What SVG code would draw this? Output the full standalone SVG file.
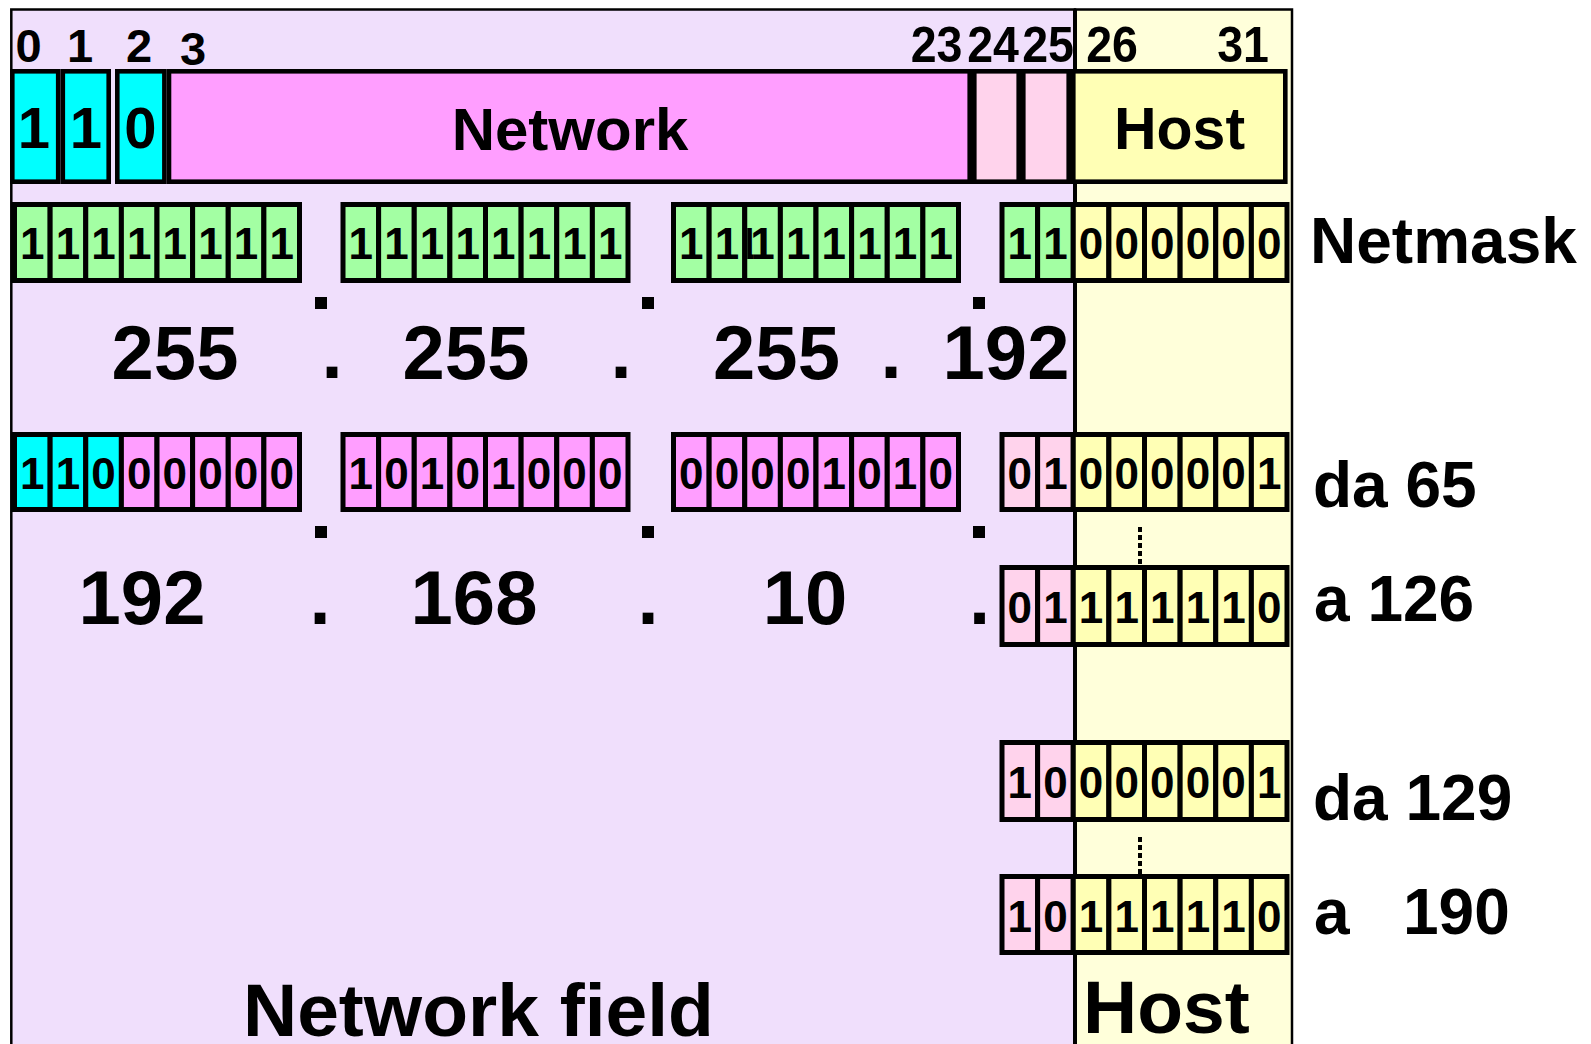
<svg xmlns="http://www.w3.org/2000/svg" width="1591" height="1044" viewBox="0 0 1591 1044">
<style>
text{font-family:"Liberation Sans",Arial,sans-serif;font-weight:bold;fill:#000}
.c{stroke:#000;stroke-width:5}
.t{stroke:#000;stroke-width:4.6}
.cy{fill:#00FFFF}.pk{fill:#FF9EFF}.lp{fill:#FFD3EC}.gr{fill:#A3FFA3}.ye{fill:#FFFFB5}
.b{font-size:44px;text-anchor:middle}
.n{font-size:76px;text-anchor:middle}
.lbl{font-size:64px}
.idx{font-size:47px;text-anchor:middle}
.idx2{font-size:50px;text-anchor:middle}
</style>
<defs>
<clipPath id="art"><rect x="747.25" y="207" width="6" height="71"/></clipPath>
</defs>
<g id="background">
<rect x="11.3" y="9.5" width="1063.7" height="1045" fill="#F0DFFC" stroke="#000" stroke-width="2.5"/>
<rect x="1075" y="9.5" width="217" height="1045" fill="#FFFFDA" stroke="#000" stroke-width="2.5"/>
<line x1="1075" y1="9" x2="1075" y2="1044" stroke="#000" stroke-width="4"/>
</g>
<g id="bit-index">
<text class="idx" x="28.5" y="62">0</text>
<text class="idx" x="80" y="62">1</text>
<text class="idx" x="139" y="62">2</text>
<text class="idx" x="193" y="65">3</text>
<text class="idx2" transform="translate(936.5 62) scale(0.93 1)">23</text>
<text class="idx2" transform="translate(993 62) scale(0.93 1)">24</text>
<text class="idx2" transform="translate(1048 62) scale(0.93 1)">25</text>
<text class="idx2" transform="translate(1112 62) scale(0.93 1)">26</text>
<text class="idx2" transform="translate(1243 62) scale(0.93 1)">31</text>
</g>
<g id="address-format">
<rect class="t cy" x="12.3" y="71.3" width="45.9" height="110.4"/>
<rect class="t cy" x="62.8" y="71.3" width="45.9" height="110.4"/>
<rect class="t cy" x="117.3" y="71.3" width="47.1" height="110.4"/>
<rect class="t pk" x="169" y="71.3" width="800.7" height="110.4"/>
<rect class="t lp" x="974.3" y="71.3" width="44.4" height="110.4"/>
<rect class="t lp" x="1023.3" y="71.3" width="45.4" height="110.4"/>
<rect class="t ye" x="1073.3" y="71.3" width="212" height="110.4"/>
<text x="34" y="148" style="font-size:58px;text-anchor:middle">1</text>
<text x="86" y="148" style="font-size:58px;text-anchor:middle">1</text>
<text x="140.5" y="148" style="font-size:58px;text-anchor:middle">0</text>
<text x="570" y="150" style="font-size:60px;text-anchor:middle">Network</text>
<text x="1179.5" y="149" style="font-size:59px;text-anchor:middle">Host</text>
</g>
<g id="netmask-bits">
<rect class="c gr" x="14.5" y="204.5" width="35.625" height="76"/>
<rect class="c gr" x="50.125" y="204.5" width="35.625" height="76"/>
<rect class="c gr" x="85.75" y="204.5" width="35.625" height="76"/>
<rect class="c gr" x="121.375" y="204.5" width="35.625" height="76"/>
<rect class="c gr" x="157" y="204.5" width="35.625" height="76"/>
<rect class="c gr" x="192.625" y="204.5" width="35.625" height="76"/>
<rect class="c gr" x="228.25" y="204.5" width="35.625" height="76"/>
<rect class="c gr" x="263.875" y="204.5" width="35.625" height="76"/>
<rect class="c gr" x="343" y="204.5" width="35.625" height="76"/>
<rect class="c gr" x="378.625" y="204.5" width="35.625" height="76"/>
<rect class="c gr" x="414.25" y="204.5" width="35.625" height="76"/>
<rect class="c gr" x="449.875" y="204.5" width="35.625" height="76"/>
<rect class="c gr" x="485.5" y="204.5" width="35.625" height="76"/>
<rect class="c gr" x="521.125" y="204.5" width="35.625" height="76"/>
<rect class="c gr" x="556.75" y="204.5" width="35.625" height="76"/>
<rect class="c gr" x="592.375" y="204.5" width="35.625" height="76"/>
<rect class="c gr" x="673.5" y="204.5" width="35.625" height="76"/>
<rect class="c gr" x="709.125" y="204.5" width="35.625" height="76"/>
<rect class="c gr" x="744.75" y="204.5" width="35.625" height="76"/>
<rect class="c gr" x="780.375" y="204.5" width="35.625" height="76"/>
<rect class="c gr" x="816" y="204.5" width="35.625" height="76"/>
<rect class="c gr" x="851.625" y="204.5" width="35.625" height="76"/>
<rect class="c gr" x="887.25" y="204.5" width="35.625" height="76"/>
<rect class="c gr" x="922.875" y="204.5" width="35.625" height="76"/>
<rect class="c gr" x="1002" y="204.5" width="35.625" height="76"/>
<rect class="c gr" x="1037.625" y="204.5" width="35.625" height="76"/>
<rect class="c ye" x="1073.25" y="204.5" width="35.625" height="76"/>
<rect class="c ye" x="1108.875" y="204.5" width="35.625" height="76"/>
<rect class="c ye" x="1144.5" y="204.5" width="35.625" height="76"/>
<rect class="c ye" x="1180.125" y="204.5" width="35.625" height="76"/>
<rect class="c ye" x="1215.75" y="204.5" width="35.625" height="76"/>
<rect class="c ye" x="1251.375" y="204.5" width="35.625" height="76"/>
<text class="b" x="32.31" y="258.5">1</text><text class="b" x="67.94" y="258.5">1</text><text class="b" x="103.56" y="258.5">1</text><text class="b" x="139.19" y="258.5">1</text><text class="b" x="174.81" y="258.5">1</text><text class="b" x="210.44" y="258.5">1</text><text class="b" x="246.06" y="258.5">1</text><text class="b" x="281.69" y="258.5">1</text>
<text class="b" x="360.81" y="258.5">1</text><text class="b" x="396.44" y="258.5">1</text><text class="b" x="432.06" y="258.5">1</text><text class="b" x="467.69" y="258.5">1</text><text class="b" x="503.31" y="258.5">1</text><text class="b" x="538.94" y="258.5">1</text><text class="b" x="574.56" y="258.5">1</text><text class="b" x="610.19" y="258.5">1</text>
<text class="b" x="691.31" y="258.5">1</text><text class="b" x="726.94" y="258.5">1</text><text class="b" x="762.56" y="258.5">1</text><text class="b" x="798.19" y="258.5">1</text><text class="b" x="833.81" y="258.5">1</text><text class="b" x="869.44" y="258.5">1</text><text class="b" x="905.06" y="258.5">1</text><text class="b" x="940.69" y="258.5">1</text>
<text x="735.4" y="258.5" clip-path="url(#art)" style="font-size:44px">1</text>
<text class="b" x="1019.81" y="258.5">1</text><text class="b" x="1055.44" y="258.5">1</text><text class="b" x="1091.06" y="258.5">0</text><text class="b" x="1126.69" y="258.5">0</text><text class="b" x="1162.31" y="258.5">0</text><text class="b" x="1197.94" y="258.5">0</text><text class="b" x="1233.56" y="258.5">0</text><text class="b" x="1269.19" y="258.5">0</text>
</g>
<g id="separators">
<rect x="315" y="297" width="12" height="12"/>
<rect x="642" y="297" width="12" height="12"/>
<rect x="973" y="297" width="12" height="12"/>
<rect x="315" y="526" width="12" height="12"/>
<rect x="642" y="526" width="12" height="12"/>
<rect x="973" y="526" width="12" height="12"/>
</g>
<g id="netmask-decimal">
<text class="n" x="175" y="379">255</text>
<text class="n" x="332" y="378">.</text>
<text class="n" x="466" y="379">255</text>
<text class="n" x="621" y="378">.</text>
<text class="n" x="776.5" y="379">255</text>
<text class="n" x="891" y="378">.</text>
<text class="n" x="1006" y="379">192</text>
</g>
<g id="addr-65-bits">
<rect class="c cy" x="14.5" y="434.5" width="35.625" height="75"/>
<rect class="c cy" x="50.125" y="434.5" width="35.625" height="75"/>
<rect class="c cy" x="85.75" y="434.5" width="35.625" height="75"/>
<rect class="c pk" x="121.375" y="434.5" width="35.625" height="75"/>
<rect class="c pk" x="157" y="434.5" width="35.625" height="75"/>
<rect class="c pk" x="192.625" y="434.5" width="35.625" height="75"/>
<rect class="c pk" x="228.25" y="434.5" width="35.625" height="75"/>
<rect class="c pk" x="263.875" y="434.5" width="35.625" height="75"/>
<rect class="c pk" x="343" y="434.5" width="35.625" height="75"/>
<rect class="c pk" x="378.625" y="434.5" width="35.625" height="75"/>
<rect class="c pk" x="414.25" y="434.5" width="35.625" height="75"/>
<rect class="c pk" x="449.875" y="434.5" width="35.625" height="75"/>
<rect class="c pk" x="485.5" y="434.5" width="35.625" height="75"/>
<rect class="c pk" x="521.125" y="434.5" width="35.625" height="75"/>
<rect class="c pk" x="556.75" y="434.5" width="35.625" height="75"/>
<rect class="c pk" x="592.375" y="434.5" width="35.625" height="75"/>
<rect class="c pk" x="673.5" y="434.5" width="35.625" height="75"/>
<rect class="c pk" x="709.125" y="434.5" width="35.625" height="75"/>
<rect class="c pk" x="744.75" y="434.5" width="35.625" height="75"/>
<rect class="c pk" x="780.375" y="434.5" width="35.625" height="75"/>
<rect class="c pk" x="816" y="434.5" width="35.625" height="75"/>
<rect class="c pk" x="851.625" y="434.5" width="35.625" height="75"/>
<rect class="c pk" x="887.25" y="434.5" width="35.625" height="75"/>
<rect class="c pk" x="922.875" y="434.5" width="35.625" height="75"/>
<rect class="c lp" x="1002" y="434.5" width="35.625" height="75"/>
<rect class="c lp" x="1037.625" y="434.5" width="35.625" height="75"/>
<rect class="c ye" x="1073.25" y="434.5" width="35.625" height="75"/>
<rect class="c ye" x="1108.875" y="434.5" width="35.625" height="75"/>
<rect class="c ye" x="1144.5" y="434.5" width="35.625" height="75"/>
<rect class="c ye" x="1180.125" y="434.5" width="35.625" height="75"/>
<rect class="c ye" x="1215.75" y="434.5" width="35.625" height="75"/>
<rect class="c ye" x="1251.375" y="434.5" width="35.625" height="75"/>
<text class="b" x="32.31" y="489">1</text><text class="b" x="67.94" y="489">1</text><text class="b" x="103.56" y="489">0</text><text class="b" x="139.19" y="489">0</text><text class="b" x="174.81" y="489">0</text><text class="b" x="210.44" y="489">0</text><text class="b" x="246.06" y="489">0</text><text class="b" x="281.69" y="489">0</text>
<text class="b" x="360.81" y="489">1</text><text class="b" x="396.44" y="489">0</text><text class="b" x="432.06" y="489">1</text><text class="b" x="467.69" y="489">0</text><text class="b" x="503.31" y="489">1</text><text class="b" x="538.94" y="489">0</text><text class="b" x="574.56" y="489">0</text><text class="b" x="610.19" y="489">0</text>
<text class="b" x="691.31" y="489">0</text><text class="b" x="726.94" y="489">0</text><text class="b" x="762.56" y="489">0</text><text class="b" x="798.19" y="489">0</text><text class="b" x="833.81" y="489">1</text><text class="b" x="869.44" y="489">0</text><text class="b" x="905.06" y="489">1</text><text class="b" x="940.69" y="489">0</text>
<text class="b" x="1019.81" y="489">0</text><text class="b" x="1055.44" y="489">1</text><text class="b" x="1091.06" y="489">0</text><text class="b" x="1126.69" y="489">0</text><text class="b" x="1162.31" y="489">0</text><text class="b" x="1197.94" y="489">0</text><text class="b" x="1233.56" y="489">0</text><text class="b" x="1269.19" y="489">1</text>
</g>
<g id="address-decimal">
<text class="n" x="142" y="624">192</text>
<text class="n" x="320" y="624">.</text>
<text class="n" x="474" y="624">168</text>
<text class="n" x="648" y="624">.</text>
<text class="n" x="805" y="624">10</text>
<text class="n" x="979.5" y="624">.</text>
</g>
<g id="addr-126-bits">
<rect class="c lp" x="1002" y="567.5" width="35.625" height="77"/>
<rect class="c lp" x="1037.625" y="567.5" width="35.625" height="77"/>
<rect class="c ye" x="1073.25" y="567.5" width="35.625" height="77"/>
<rect class="c ye" x="1108.875" y="567.5" width="35.625" height="77"/>
<rect class="c ye" x="1144.5" y="567.5" width="35.625" height="77"/>
<rect class="c ye" x="1180.125" y="567.5" width="35.625" height="77"/>
<rect class="c ye" x="1215.75" y="567.5" width="35.625" height="77"/>
<rect class="c ye" x="1251.375" y="567.5" width="35.625" height="77"/>
<text class="b" x="1019.81" y="623">0</text><text class="b" x="1055.44" y="623">1</text><text class="b" x="1091.06" y="623">1</text><text class="b" x="1126.69" y="623">1</text><text class="b" x="1162.31" y="623">1</text><text class="b" x="1197.94" y="623">1</text><text class="b" x="1233.56" y="623">1</text><text class="b" x="1269.19" y="623">0</text>
</g>
<g id="addr-129-bits">
<rect class="c lp" x="1002" y="742.5" width="35.625" height="77"/>
<rect class="c lp" x="1037.625" y="742.5" width="35.625" height="77"/>
<rect class="c ye" x="1073.25" y="742.5" width="35.625" height="77"/>
<rect class="c ye" x="1108.875" y="742.5" width="35.625" height="77"/>
<rect class="c ye" x="1144.5" y="742.5" width="35.625" height="77"/>
<rect class="c ye" x="1180.125" y="742.5" width="35.625" height="77"/>
<rect class="c ye" x="1215.75" y="742.5" width="35.625" height="77"/>
<rect class="c ye" x="1251.375" y="742.5" width="35.625" height="77"/>
<text class="b" x="1019.81" y="798">1</text><text class="b" x="1055.44" y="798">0</text><text class="b" x="1091.06" y="798">0</text><text class="b" x="1126.69" y="798">0</text><text class="b" x="1162.31" y="798">0</text><text class="b" x="1197.94" y="798">0</text><text class="b" x="1233.56" y="798">0</text><text class="b" x="1269.19" y="798">1</text>
</g>
<g id="addr-190-bits">
<rect class="c lp" x="1002" y="876.5" width="35.625" height="76"/>
<rect class="c lp" x="1037.625" y="876.5" width="35.625" height="76"/>
<rect class="c ye" x="1073.25" y="876.5" width="35.625" height="76"/>
<rect class="c ye" x="1108.875" y="876.5" width="35.625" height="76"/>
<rect class="c ye" x="1144.5" y="876.5" width="35.625" height="76"/>
<rect class="c ye" x="1180.125" y="876.5" width="35.625" height="76"/>
<rect class="c ye" x="1215.75" y="876.5" width="35.625" height="76"/>
<rect class="c ye" x="1251.375" y="876.5" width="35.625" height="76"/>
<text class="b" x="1019.81" y="932">1</text><text class="b" x="1055.44" y="932">0</text><text class="b" x="1091.06" y="932">1</text><text class="b" x="1126.69" y="932">1</text><text class="b" x="1162.31" y="932">1</text><text class="b" x="1197.94" y="932">1</text><text class="b" x="1233.56" y="932">1</text><text class="b" x="1269.19" y="932">0</text>
</g>
<g id="connectors" stroke="#000" stroke-width="4" stroke-dasharray="5 3" fill="none">
<line x1="1140" y1="527" x2="1140" y2="565"/>
<line x1="1140" y1="837" x2="1140" y2="875"/>
</g>
<g id="labels">
<text class="lbl" x="1310" y="263">Netmask</text>
<text class="lbl" x="1313" y="507">da 65</text>
<text class="lbl" x="1314" y="621">a 126</text>
<text class="lbl" x="1313" y="820">da 129</text>
<text class="lbl" x="1314" y="934">a<tspan x="1403">190</tspan></text>
<text x="243" y="1036" style="font-size:75px">Network field</text>
<text x="1083" y="1033" style="font-size:75px">Host</text>
</g>
</svg>
